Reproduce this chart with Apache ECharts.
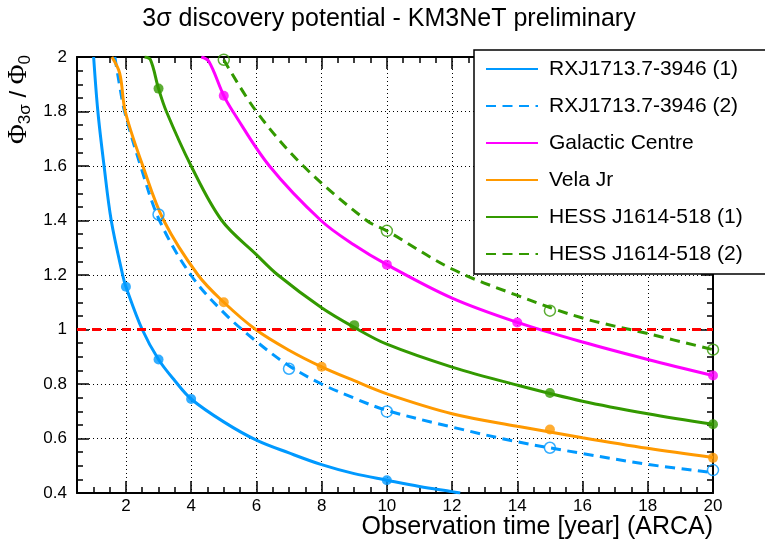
<!DOCTYPE html>
<html>
<head>
<meta charset="utf-8">
<script src="https://cdn.jsdelivr.net/npm/echarts@6/dist/echarts.min.js"></script>
<style>
html, body { margin: 0; padding: 0; background: #fff; }
#main { width: 765px; height: 541px; }
</style>
</head>
<body>
<div id="main"></div>
<script>
// data: [year, flux ratio]
var seriesNames = ["RXJ1713.7-3946 (1)", "RXJ1713.7-3946 (2)", "Galactic Centre", "Vela Jr", "HESS J1614-518 (1)", "HESS J1614-518 (2)"];
var xTicks = [2, 4, 6, 8, 10, 12, 14, 16, 18, 20];
var thresholdY = 1;

var rxj1Line = [[1.01, 2.0], [1.14, 1.8], [1.33, 1.6], [1.55, 1.4], [1.9, 1.2], [2, 1.157], [2.5, 1.0], [3, 0.89], [3.5, 0.812], [4, 0.745], [5, 0.661], [6, 0.594], [7, 0.547], [8, 0.504], [9, 0.471], [10, 0.447], [11, 0.424], [12, 0.405], [12.25, 0.4]];
var rxj1Pts = [[2, 1.157], [3, 0.89], [4, 0.745], [10, 0.447]];

var rxj2Line = [[1.66, 2.0], [1.8, 1.9], [1.96, 1.8], [2.45, 1.6], [3.03, 1.4], [3.99, 1.2], [5, 1.062], [6, 0.956], [7, 0.867], [8, 0.8], [9, 0.748], [10, 0.703], [12, 0.642], [14, 0.588], [16, 0.545], [18, 0.505], [20, 0.475]];
var rxj2Pts = [[3, 1.422], [7, 0.856], [10, 0.699], [15, 0.566], [20, 0.484]];

var gcLine = [[4.31, 2.0], [4.54, 1.984], [5, 1.858], [5.28, 1.8], [6.4, 1.6], [7.98, 1.4], [9, 1.31], [10, 1.238], [12, 1.115], [14, 1.026], [16, 0.954], [18, 0.89], [20, 0.831]];
var gcPts = [[5, 1.858], [10, 1.238], [14, 1.026], [20, 0.831]];

var velaLine = [[1.57, 2.0], [1.81, 1.94], [1.98, 1.8], [2.52, 1.6], [3.16, 1.4], [4.21, 1.2], [5, 1.1], [6, 0.998], [7, 0.924], [8, 0.863], [9, 0.812], [10, 0.764], [12, 0.691], [14, 0.645], [16, 0.603], [18, 0.564], [20, 0.53]];
var velaPts = [[5, 1.1], [8, 0.863], [15, 0.633], [20, 0.529]];

var hess1Line = [[2.57, 2.0], [2.75, 1.99], [3, 1.884], [3.24, 1.8], [4, 1.6], [4.94, 1.4], [6, 1.275], [6.66, 1.2], [8, 1.08], [9, 1.008], [10, 0.946], [12, 0.862], [14, 0.796], [16, 0.737], [18, 0.691], [20, 0.652]];
var hess1Pts = [[3, 1.884], [9, 1.016], [15, 0.767], [20, 0.652]];

var hess2Line = [[5, 1.99], [6, 1.8], [7.44, 1.6], [9.38, 1.4], [10, 1.362], [12, 1.222], [14, 1.125], [16, 1.042], [18, 0.985], [20, 0.926]];
var hess2Pts = [[5, 1.99], [10, 1.362], [15, 1.069], [20, 0.926]];

var FONT = "'Liberation Sans', Arial, sans-serif";
var BLUE = "#0099ff", MAGENTA = "#ff00ff", ORANGE = "#ff9900", GREEN = "#339900";

function curve(name, data, color, dashed) {
	return {
		name: name,
		type: "line",
		data: data,
		symbol: "none",
		smooth: 0.35,
		z: 3,
		lineStyle: { color: color, width: 3, type: dashed ? [10, 6.5] : "solid" },
		itemStyle: { color: color }
	};
}

function points(name, data, color, open) {
	return {
		name: name,
		type: "scatter",
		data: data,
		symbol: "circle",
		symbolSize: open ? 11 : 10,
		z: 4,
		silent: true,
		itemStyle: open ? { color: "rgba(0,0,0,0)", borderColor: color, borderWidth: 1.5 } : { color: color }
	};
}

function xAxisPart(position, major) {
	var ax = {
		type: "value",
		min: 0.5,
		max: 20,
		position: position,
		axisLine: { show: major, onZero: false, lineStyle: { color: "#000", width: 2 } },
		axisTick: { show: true, inside: true, length: major ? 12 : 6, lineStyle: { color: "#000", width: 1.5 } },
		axisLabel: { show: false },
		splitLine: { show: false }
	};
	if(major) {
		ax.axisTick.customValues = xTicks;
	} else {
		ax.interval = 0.5;
	}
	return ax;
}

var chart = echarts.init(document.getElementById("main"));
var xBottom = xAxisPart("bottom", true);
xBottom.axisLabel = { show: true, customValues: xTicks, margin: 5, fontSize: 17, color: "#000", fontFamily: FONT };
xBottom.splitLine = { show: true, lineStyle: { color: "#000", width: 1, type: [1, 3] } };

var option = {
	animation: false,
	backgroundColor: "#fff",
	textStyle: { fontFamily: FONT },
	grid: { left: 77, right: 52, top: 57, bottom: 48 },
	xAxis: [xBottom, xAxisPart("bottom", false), xAxisPart("top", true), xAxisPart("top", false)],
	yAxis: [{
		type: "value",
		min: 0.4,
		max: 2,
		interval: 0.2,
		position: "left",
		axisLine: { show: true, onZero: false, lineStyle: { color: "#000", width: 2 } },
		axisTick: { inside: true, length: 12, lineStyle: { color: "#000", width: 1.5 } },
		minorTick: { show: true, splitNumber: 4, length: 6, lineStyle: { color: "#000", width: 1.5 } },
		axisLabel: { margin: 10, fontSize: 17, color: "#000", fontFamily: FONT },
		splitLine: { show: true, lineStyle: { color: "#000", width: 1, type: [1, 3] } }
	}, {
		type: "value",
		min: 0.4,
		max: 2,
		interval: 0.2,
		position: "right",
		axisLine: { show: true, onZero: false, lineStyle: { color: "#000", width: 2 } },
		axisTick: { inside: true, length: 12, lineStyle: { color: "#000", width: 1.5 } },
		minorTick: { show: true, splitNumber: 4, length: 6, lineStyle: { color: "#000", width: 1.5 } },
		axisLabel: { show: false },
		splitLine: { show: false }
	}],
	legend: {
		data: seriesNames,
		orient: "vertical",
		left: 474,
		top: 50,
		padding: [8, 60, 9, 11],
		itemWidth: 52,
		itemHeight: 14,
		itemGap: 15,
		selectedMode: false,
		backgroundColor: "#fff",
		borderColor: "#000",
		borderWidth: 1.5,
		itemStyle: { opacity: 0 },
		textStyle: { fontSize: 21, lineHeight: 22, color: "#000", fontFamily: FONT, padding: [0, 0, 0, 6] }
	},
	graphic: [{
		type: "text",
		x: 389,
		y: 19,
		style: { text: "3σ discovery potential - KM3NeT preliminary", fontSize: 25, fontFamily: FONT, fill: "#000", align: "center", verticalAlign: "middle" }
	}, {
		type: "text",
		x: 713,
		y: 527,
		style: { text: "Observation time [year] (ARCA)", fontSize: 25, fontFamily: FONT, fill: "#000", align: "right", verticalAlign: "middle" }
	}, {
		type: "text",
		x: 19,
		y: 55,
		rotation: Math.PI / 2,
		style: {
			text: "{f|Φ}{s|3σ}{t| / }{f|Φ}{s|0}",
			align: "right",
			verticalAlign: "middle",
			fill: "#000",
			rich: {
				f: { fontSize: 27, fontFamily: "'Liberation Serif', serif", lineHeight: 30, verticalAlign: "middle", fill: "#000" },
				t: { fontSize: 24, fontFamily: FONT, lineHeight: 30, verticalAlign: "middle", fill: "#000" },
				s: { fontSize: 17, fontFamily: FONT, lineHeight: 17, verticalAlign: "bottom", fill: "#000" }
			}
		}
	}],
	series: [
		curve(seriesNames[0], rxj1Line, BLUE, false),
		curve(seriesNames[1], rxj2Line, BLUE, true),
		curve(seriesNames[2], gcLine, MAGENTA, false),
		curve(seriesNames[3], velaLine, ORANGE, false),
		curve(seriesNames[4], hess1Line, GREEN, false),
		curve(seriesNames[5], hess2Line, GREEN, true),
		{
			name: "threshold",
			type: "line",
			data: [[0.5, thresholdY], [20, thresholdY]],
			symbol: "none",
			silent: true,
			z: 3,
			lineStyle: { color: "#ff0000", width: 3, type: [9, 6] }
		},
		points("rxj1 points", rxj1Pts, BLUE, false),
		points("rxj2 points", rxj2Pts, BLUE, true),
		points("gc points", gcPts, MAGENTA, false),
		points("vela points", velaPts, ORANGE, false),
		points("hess1 points", hess1Pts, GREEN, false),
		points("hess2 points", hess2Pts, GREEN, true)
	]
};
chart.setOption(option);
</script>
</body>
</html>
